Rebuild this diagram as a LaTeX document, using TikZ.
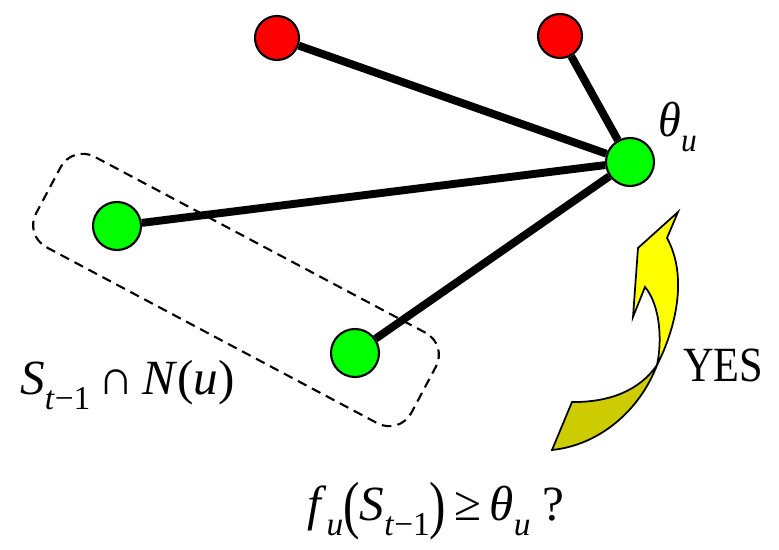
\documentclass[tikz,border=0pt]{standalone}
\usepackage{fontspec}
\setmainfont{Liberation Serif}
\usepackage{graphicx}
\newcommand{\sub}[1]{\raisebox{-0.3em}{\fontsize{19}{20}\selectfont #1}}
\newcommand{\bigpar}[1]{\raisebox{-0.12em}{\scalebox{1}[1.3]{#1}}}
\definecolor{nodegreen}{RGB}{0,255,0}
\definecolor{nodered}{RGB}{255,0,0}
\definecolor{arrowyellow}{RGB}{255,255,0}
\definecolor{arrowolive}{RGB}{204,204,0}
\begin{document}
\begin{tikzpicture}[
  vertex/.style={circle, draw, line width=1.2pt, minimum size=0.96cm, inner sep=0pt},
  active/.style={vertex, fill=nodegreen},
  inactive/.style={vertex, fill=nodered, minimum size=0.88cm},
  link/.style={line width=4.5pt},
  lbl/.style={inner sep=0pt, font=\fontsize{28}{32}\selectfont}
]
\useasboundingbox (0,0) rectangle (15.58,11.0);
% neighbourhood box
\node[draw, line width=1.2pt, dash pattern=on 5.5pt off 3.5pt, rounded corners=0.5cm, minimum width=8.5cm, minimum height=2.05cm, rotate=-28] (box) at (4.72,5.2) {};
% nodes
\node[inactive] (s1) at (5.54,10.24) {};
\node[inactive] (s2) at (11.2,10.28) {};
\node[active] (u) at (12.6,7.76) {};
\node[active] (v1) at (2.34,6.48) {};
\node[active] (v2) at (7.1,3.94) {};
% edges
\foreach \a in {s1,s2,v1,v2} \draw[link] (\a) -- (u);
% twisted arrow, back side
\draw[line width=1pt, fill=arrowolive] (13.14,3.70) .. controls (12.8,3.2) and (12.2,2.95) .. (11.44,2.96) -- (11.04,2.00) .. controls (12.0,2.1) and (12.8,2.8) .. (13.14,3.70) -- cycle;
% twisted arrow, front side
\draw[line width=1pt, fill=arrowyellow] (13.14,3.70) .. controls (13.25,4.2) and (13.2,4.9) .. (12.90,5.26) -- (12.66,4.66) -- (12.76,6.04) -- (13.56,6.76) -- (13.34,6.24) .. controls (13.8,5.4) and (13.45,4.3) .. (13.14,3.70) -- cycle;
% labels
\node[lbl, anchor=base west, xscale=0.94] (theta) at (13.16,8.26) {\itshape θ\sub{u}};
\node[lbl, anchor=base west, xscale=0.86] (yes) at (13.66,3.36) {YES};
\node[lbl, anchor=base west] (set) at (0.40,3.10) {\textit{S}\sub{\textit{t}−1}\,∩\,\textit{N}(\textit{u})};
\node[lbl, anchor=base west] (test) at (6.14,0.58) {\textit{f}\sub{\textit{u}}\bigpar{(}\textit{S}\sub{\textit{t}−1}\bigpar{)}\,≥\,\textit{θ}\sub{\textit{u}} ?};
\end{tikzpicture}
\end{document}
